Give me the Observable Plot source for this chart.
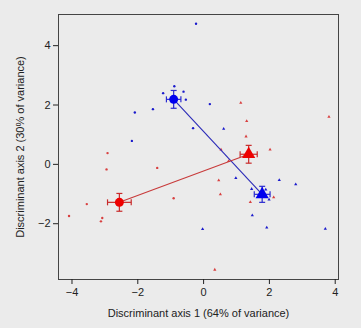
<!DOCTYPE html>
<html>
<head>
<meta charset="utf-8">
<script src="https://cdn.jsdelivr.net/npm/d3@7"></script>
<script src="https://cdn.jsdelivr.net/npm/@observablehq/plot@0.6"></script>
<style>
  html, body { margin: 0; padding: 0; background: #ebebeb; }
  #chart svg { display: block; }
</style>
</head>
<body>
<div id="chart"></div>
<script>
// Individual scores
const blueCircleX = [-0.23, -0.89, -1.23, -0.61, -0.54, -1.54, -2.09, 0.19, -2.18, -0.32];
const blueCircleY = [4.74, 2.63, 2.40, 2.45, 2.18, 1.86, 1.75, 2.03, 0.79, 1.22];
const blueTriX = [0.61, 0.98, 2.30, 2.80, 1.48, 1.92, -0.03, 3.70, 1.46, 1.99, 1.89];
const blueTriY = [1.20, -0.46, -0.53, -0.67, -1.72, -2.13, -2.18, -2.17, -0.83, -1.19, -0.85];
const redCircleX = [-2.92, -2.95, -1.41, -0.91, -3.55, -4.09, -3.08, -3.12];
const redCircleY = [0.38, -0.17, -0.12, -1.14, -1.34, -1.74, -1.81, -1.92];
const redTriX = [1.13, 1.31, 1.29, 3.81, 2.02, 0.53, 0.76, 0.46, 0.51, 1.42, 2.13, 0.34];
const redTriY = [2.07, 1.46, 0.94, 1.60, 0.50, 0.50, 0.11, -0.54, -1.01, -1.27, -1.11, -3.55];

// Group means with errors
const groupColor = ["blue", "blue", "red", "red"];
const groupShape = ["circle", "triangle", "circle", "triangle"];
const meanX = [-0.91, 1.78, -2.56, 1.37];
const meanY = [2.19, -1.01, -1.28, 0.34];
const errX = [0.22, 0.24, 0.36, 0.26];
const errY = [0.30, 0.27, 0.30, 0.30];

const xTicks = [-4, -2, 0, 2, 4];
const yTicks = [-2, 0, 2, 4];
const xTitle = "Discriminant axis 1 (64% of variance)";
const yTitle = "Discriminant axis 2 (30% of variance)";

const pts = [];
const addPts = (xs, ys, color, shape) => xs.forEach((x, i) => pts.push({x, y: ys[i], color, shape}));
addPts(blueCircleX, blueCircleY, "blue", "circle");
addPts(blueTriX, blueTriY, "blue", "triangle");
addPts(redCircleX, redCircleY, "red", "circle");
addPts(redTriX, redTriY, "red", "triangle");

const means = meanX.map((x, i) => ({x, y: meanY[i], ex: errX[i], ey: errY[i], color: groupColor[i], shape: groupShape[i]}));
const links = ["blue", "red"].map(c => {
  const a = means.find(m => m.color === c && m.shape === "circle");
  const b = means.find(m => m.color === c && m.shape === "triangle");
  return {color: c, x1: a.x, y1: a.y, x2: b.x, y2: b.y};
});

const fillOf = {blue: "#0000ee", red: "#ee0000"};
const smallOf = {blue: "#1a1acc", red: "#d84040"};
const barOf = {blue: "#2a2ad0", red: "#c82a2a"};
const lineOf = {blue: "#2a2ab8", red: "#c83a3a"};

const hbar = {draw(ctx, size) { const w = Math.sqrt(size / Math.PI); ctx.moveTo(-w, 0); ctx.lineTo(w, 0); }};
const vbar = {draw(ctx, size) { const w = Math.sqrt(size / Math.PI); ctx.moveTo(0, -w); ctx.lineTo(0, w); }};

const plot = Plot.plot({
  width: 361,
  height: 328,
  marginLeft: 58,
  marginRight: 23,
  marginTop: 14,
  marginBottom: 49,
  style: {background: "#ebebeb", fontFamily: "'Liberation Sans', Arial, sans-serif", fontSize: "11px", color: "#222"},
  x: {domain: [-4.41, 4.10]},
  y: {domain: [-3.88, 5.05]},
  marks: [
    Plot.frame({stroke: "#444", strokeWidth: 1}),
    Plot.axisX({ticks: xTicks, tickSize: 5, tickPadding: 4, label: null, tickFormat: d => d < 0 ? "\u2212" + Math.abs(d) : String(d)}),
    Plot.axisY({ticks: yTicks, tickSize: 5, tickPadding: 3, label: null, tickFormat: d => d < 0 ? "\u2212" + Math.abs(d) : String(d)}),
    Plot.text([xTitle], {text: d => d, frameAnchor: "bottom", textAnchor: "middle", lineAnchor: "middle", dy: 34, fontSize: 11, fill: "#222"}),
    Plot.text([yTitle], {text: d => d, frameAnchor: "left", textAnchor: "middle", lineAnchor: "middle", rotate: -90, dx: -38, fontSize: 11, fill: "#222"}),
    // individual points
    Plot.dot(pts, {x: "x", y: "y", symbol: "shape", r: 1.2, fill: d => smallOf[d.color], stroke: "none"}),
    // connecting lines
    Plot.link(links, {x1: "x1", y1: "y1", x2: "x2", y2: "y2", stroke: d => lineOf[d.color], strokeWidth: 1.1}),
    // error bars
    Plot.link(means, {x1: d => d.x - d.ex, x2: d => d.x + d.ex, y1: "y", y2: "y", stroke: d => barOf[d.color], strokeWidth: 1.2}),
    Plot.link(means, {x1: "x", x2: "x", y1: d => d.y - d.ey, y2: d => d.y + d.ey, stroke: d => barOf[d.color], strokeWidth: 1.2}),
    Plot.dot(means, {x: d => d.x - d.ex, y: "y", symbol: vbar, r: 3, stroke: d => barOf[d.color], strokeWidth: 1.2}),
    Plot.dot(means, {x: d => d.x + d.ex, y: "y", symbol: vbar, r: 3, stroke: d => barOf[d.color], strokeWidth: 1.2}),
    Plot.dot(means, {x: "x", y: d => d.y - d.ey, symbol: hbar, r: 3, stroke: d => barOf[d.color], strokeWidth: 1.2}),
    Plot.dot(means, {x: "x", y: d => d.y + d.ey, symbol: hbar, r: 3, stroke: d => barOf[d.color], strokeWidth: 1.2}),
    // group means
    Plot.dot(means.filter(m => m.shape === "circle"), {x: "x", y: "y", symbol: "circle", r: 4.5, fill: d => fillOf[d.color], stroke: "none"}),
    Plot.dot(means.filter(m => m.shape === "triangle"), {x: "x", y: "y", symbol: "triangle", r: 4.9, fill: d => fillOf[d.color], stroke: "none"})
  ]
});
document.getElementById("chart").appendChild(plot);
</script>
</body>
</html>
